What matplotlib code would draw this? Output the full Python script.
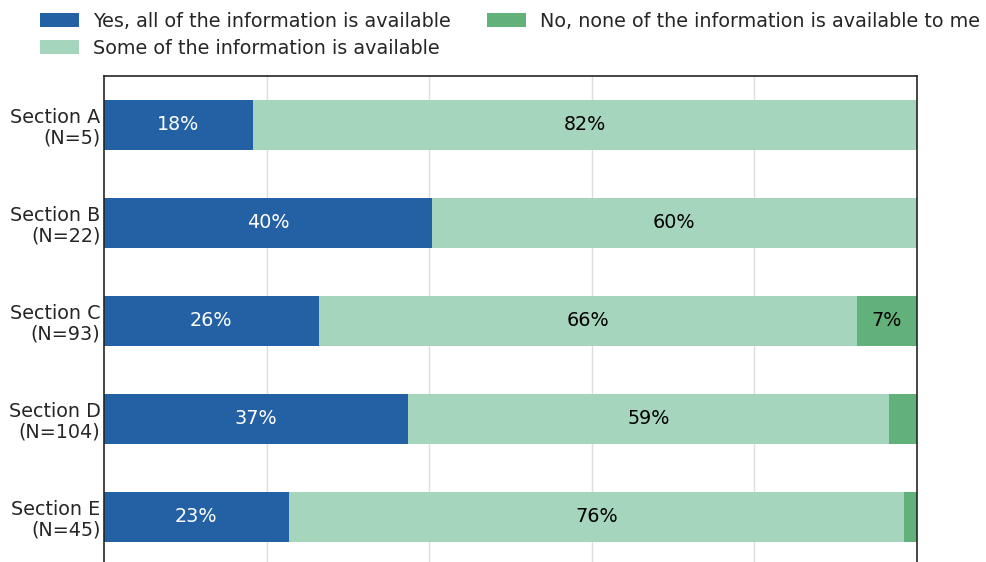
import numpy as np
import matplotlib
matplotlib.use('Agg')
import matplotlib.pyplot as plt

plt.rcParams['font.family'] = ['DejaVu Sans']

sections = ['Section A', 'Section B', 'Section C', 'Section D', 'Section E']
counts = [5, 22, 93, 104, 45]
series_names = ['Yes, all of the information is available',
                'Some of the information is available',
                'No, none of the information is available to me']
yes_all = [0.183, 0.403, 0.264, 0.374, 0.227]
some = [0.817, 0.597, 0.662, 0.592, 0.757]
none = [0.0, 0.0, 0.074, 0.034, 0.016]

colors = ['#2460a4', '#a6d5bd', '#62b07a']
label_colors = ['white', 'black', 'black']
text_col = '#262626'
FS = 13.8

fig = plt.figure(figsize=(9.87, 5.62), dpi=100)
ax = fig.add_axes([104 / 987, -4 / 562, 813 / 987, 490 / 562])

y = np.arange(len(sections))
left = np.zeros(len(sections))
handles = []
for vals, name, c, lc in zip([yes_all, some, none], series_names, colors, label_colors):
    vals = np.array(vals)
    bars = ax.barh(y, vals, left=left, height=0.51, color=c, label=name, zorder=2)
    handles.append(bars)
    for yi, l, v in zip(y, left, vals):
        if v >= 0.05:
            ax.text(l + v / 2, yi, f'{v * 100:.0f}%', ha='center', va='center',
                    color=lc, fontsize=FS, zorder=3)
    left += vals

ax.set_xlim(0, 1)
ax.set_ylim(len(sections) - 0.5, -0.5)
ax.set_yticks(y)
ax.set_yticklabels([f'{s}\n(N={n})' for s, n in zip(sections, counts)],
                   fontsize=FS, color=text_col, linespacing=1.1)
ax.tick_params(axis='y', length=0, pad=2.5)
ax.set_xticks([0.2, 0.4, 0.6, 0.8])
ax.tick_params(axis='x', length=0, labelbottom=False)
ax.grid(axis='x', color='#dddddd', linewidth=1, zorder=0)
ax.set_axisbelow(True)
for s in ax.spines.values():
    s.set_color(text_col)
    s.set_linewidth(1.2)

leg = fig.legend(handles, series_names, ncol=2, loc='upper left',
                 bbox_to_anchor=(40 / 987, 1 - 12 / 562), borderpad=0, borderaxespad=0,
                 frameon=False, fontsize=FS, handlelength=2.03, handleheight=0.73,
                 columnspacing=1.9, labelspacing=0.4, handletextpad=0.73)
for t in leg.get_texts():
    t.set_color(text_col)

fig.savefig('out.png', dpi=100)
